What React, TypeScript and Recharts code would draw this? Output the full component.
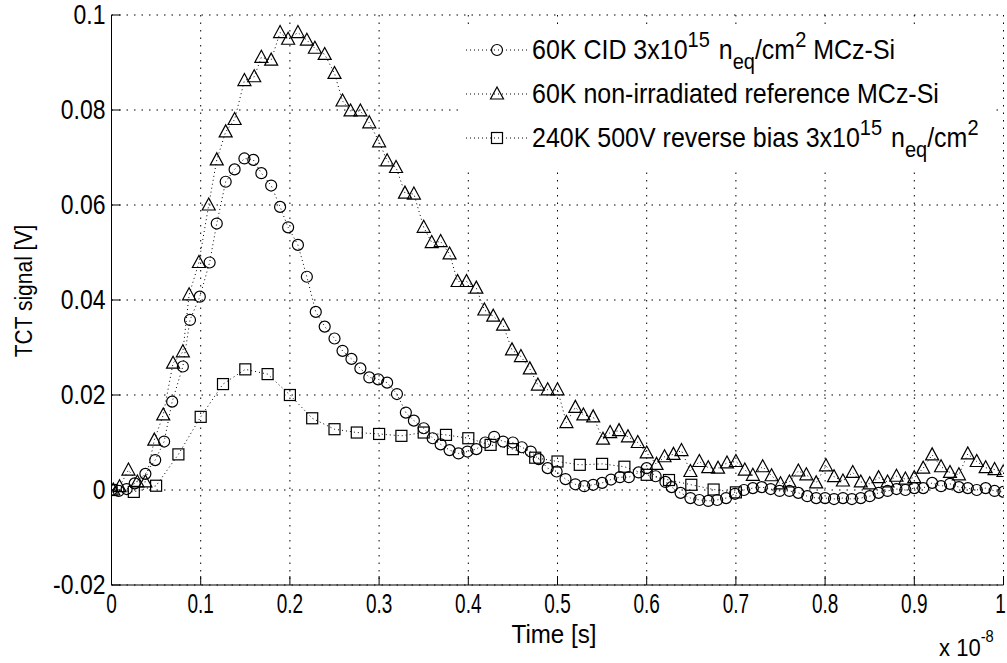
import React from 'react';
import { ScatterChart, Scatter, XAxis, YAxis, CartesianGrid } from 'recharts';

// Time in units of 1e-8 s
const cidTime = [
  0.000, 0.008, 0.017, 0.026, 0.038, 0.049, 0.059, 0.068, 0.080, 0.088,
  0.099, 0.110, 0.118, 0.128, 0.138, 0.149, 0.159, 0.168, 0.179, 0.189,
  0.198, 0.209, 0.219, 0.229, 0.239, 0.250, 0.259, 0.269, 0.279, 0.289,
  0.299, 0.309, 0.320, 0.330, 0.339, 0.350, 0.360, 0.369, 0.379, 0.389,
  0.399, 0.409, 0.419, 0.429, 0.439, 0.450, 0.460, 0.470, 0.479, 0.489,
  0.499, 0.509, 0.520, 0.530, 0.540, 0.550, 0.560, 0.570, 0.580, 0.591,
  0.600, 0.610, 0.621, 0.628, 0.638, 0.649, 0.659, 0.669, 0.679, 0.689,
  0.699, 0.709, 0.719, 0.729, 0.739, 0.749, 0.760, 0.770, 0.780, 0.790,
  0.800, 0.810, 0.820, 0.830, 0.840, 0.850, 0.860, 0.870, 0.880, 0.890,
  0.900, 0.910, 0.920, 0.930, 0.940, 0.950, 0.960, 0.970, 0.980, 0.990, 1.000,
];
const cidSignal = [
  0.0000, -0.0002, 0.0002, 0.0014, 0.0034, 0.0063, 0.0102, 0.0186, 0.0260, 0.0358,
  0.0407, 0.0479, 0.0561, 0.0649, 0.0675, 0.0698, 0.0695, 0.0667, 0.0641, 0.0596,
  0.0553, 0.0516, 0.0449, 0.0375, 0.0344, 0.0319, 0.0293, 0.0276, 0.0256, 0.0237,
  0.0233, 0.0226, 0.0202, 0.0163, 0.0146, 0.0130, 0.0109, 0.0096, 0.0084, 0.0077,
  0.0081, 0.0086, 0.0100, 0.0112, 0.0102, 0.0100, 0.0090, 0.0081, 0.0065, 0.0046,
  0.0039, 0.0023, 0.0012, 0.0008, 0.0011, 0.0015, 0.0022, 0.0027, 0.0027, 0.0037,
  0.0046, 0.0029, 0.0017, 0.0006, -0.0006, -0.0017, -0.0021, -0.0023, -0.0021, -0.0017,
  -0.0008, 0.0000, 0.0004, 0.0006, 0.0002, -0.0002, -0.0002, -0.0006, -0.0013, -0.0017,
  -0.0017, -0.0019, -0.0017, -0.0019, -0.0017, -0.0013, -0.0006, -0.0002, 0.0002, 0.0000,
  0.0004, 0.0004, 0.0015, 0.0008, 0.0013, 0.0006, 0.0004, 0.0000, 0.0004, -0.0002, -0.0004,
];

const refTime = [
  0.002, 0.009, 0.019, 0.029, 0.038, 0.048, 0.058, 0.069, 0.080, 0.087,
  0.098, 0.109, 0.118, 0.128, 0.138, 0.149, 0.160, 0.168, 0.179, 0.189,
  0.198, 0.209, 0.219, 0.228, 0.239, 0.250, 0.259, 0.268, 0.279, 0.289,
  0.300, 0.309, 0.319, 0.329, 0.339, 0.350, 0.359, 0.369, 0.379, 0.388,
  0.398, 0.409, 0.418, 0.428, 0.439, 0.449, 0.459, 0.469, 0.478, 0.489,
  0.500, 0.510, 0.520, 0.529, 0.540, 0.551, 0.559, 0.569, 0.579, 0.590,
  0.600, 0.611, 0.620, 0.630, 0.639, 0.649, 0.659, 0.669, 0.680, 0.690,
  0.700, 0.710, 0.719, 0.730, 0.740, 0.750, 0.760, 0.770, 0.779, 0.790,
  0.801, 0.810, 0.820, 0.831, 0.840, 0.850, 0.860, 0.870, 0.880, 0.890,
  0.900, 0.910, 0.920, 0.930, 0.940, 0.950, 0.960, 0.970, 0.980, 0.990, 1.000,
];
const refSignal = [
  0.0000, 0.0007, 0.0042, 0.0017, 0.0017, 0.0105, 0.0158, 0.0267, 0.0291, 0.0411,
  0.0479, 0.0600, 0.0695, 0.0754, 0.0780, 0.0862, 0.0870, 0.0911, 0.0905, 0.0963,
  0.0949, 0.0963, 0.0947, 0.0930, 0.0917, 0.0877, 0.0819, 0.0798, 0.0798, 0.0773,
  0.0733, 0.0693, 0.0679, 0.0625, 0.0623, 0.0553, 0.0521, 0.0523, 0.0497, 0.0439,
  0.0439, 0.0425, 0.0379, 0.0366, 0.0347, 0.0295, 0.0281, 0.0255, 0.0221, 0.0211,
  0.0211, 0.0142, 0.0174, 0.0158, 0.0154, 0.0107, 0.0121, 0.0125, 0.0112, 0.0100,
  0.0078, 0.0054, 0.0070, 0.0075, 0.0083, 0.0039, 0.0060, 0.0047, 0.0046, 0.0057,
  0.0060, 0.0042, 0.0031, 0.0049, 0.0030, 0.0013, 0.0017, 0.0040, 0.0032, 0.0015,
  0.0051, 0.0028, 0.0019, 0.0037, 0.0017, 0.0013, 0.0026, 0.0017, 0.0029, 0.0023,
  0.0026, 0.0046, 0.0074, 0.0049, 0.0037, 0.0032, 0.0076, 0.0060, 0.0047, 0.0043, 0.0039,
];

const biasTime = [
  0.000, 0.025, 0.050, 0.075, 0.100, 0.125, 0.150, 0.175, 0.200, 0.225,
  0.250, 0.275, 0.300, 0.325, 0.350, 0.375, 0.400, 0.425, 0.450, 0.475,
  0.500, 0.525, 0.550, 0.575, 0.600, 0.625, 0.650, 0.675, 0.700,
];
const biasSignal = [
  0.0000, -0.0004, 0.0009, 0.0075, 0.0154, 0.0223, 0.0254, 0.0244, 0.0200, 0.0151,
  0.0128, 0.0121, 0.0118, 0.0114, 0.0121, 0.0116, 0.0109, 0.0095, 0.0086, 0.0068,
  0.0060, 0.0053, 0.0055, 0.0049, 0.0032, 0.0021, 0.0011, 0.0001, -0.0005,
];

const xTicks = [0, 0.1, 0.2, 0.3, 0.4, 0.5, 0.6, 0.7, 0.8, 0.9, 1];
const xTickLabels = ['0', '0.1', '0.2', '0.3', '0.4', '0.5', '0.6', '0.7', '0.8', '0.9', '1'];
const yTicks = [-0.02, 0, 0.02, 0.04, 0.06, 0.08, 0.1];
const yTickLabels = ['-0.02', '0', '0.02', '0.04', '0.06', '0.08', '0.1'];

const cidData = cidTime.map((t, i) => ({ t, v: cidSignal[i] }));
const refData = refTime.map((t, i) => ({ t, v: refSignal[i] }));
const biasData = biasTime.map((t, i) => ({ t, v: biasSignal[i] }));

const FONT = '"Liberation Sans", Arial, Helvetica, sans-serif';
const INK = '#000';

const CircleMark = (p: any) => (
  <circle cx={p.cx} cy={p.cy} r={5.5} fill="none" stroke={INK} strokeWidth={1.2} />
);
const TriMark = (p: any) => (
  <polygon
    points={`${p.cx},${p.cy - 7} ${p.cx - 6.5},${p.cy + 5} ${p.cx + 6.5},${p.cy + 5}`}
    fill="none"
    stroke={INK}
    strokeWidth={1.2}
  />
);
const SquareMark = (p: any) => (
  <rect x={p.cx - 5.5} y={p.cy - 5.5} width={11} height={11} fill="none" stroke={INK} strokeWidth={1.2} />
);

const xLabel = (v: number) => {
  const i = xTicks.indexOf(v);
  return i >= 0 ? xTickLabels[i] : String(v);
};
const yLabel = (v: number) => {
  const i = yTicks.indexOf(v);
  return i >= 0 ? yTickLabels[i] : String(v);
};

const BottomTick = (p: any) => {
  const isLast = p.payload.value === xTicks[xTicks.length - 1];
  return (
    <g>
      <line x1={p.x} x2={p.x} y1={p.y} y2={p.y - 9} stroke={INK} />
      <text
        transform={`translate(${isLast ? p.x - 3 : p.x},${p.y + 28}) scale(0.95,1.4)`}
        textAnchor="middle"
        fontSize={20}
        fontFamily={FONT}
        fill={INK}
      >
        {xLabel(p.payload.value)}
      </text>
    </g>
  );
};
const TopTick = (p: any) => (
  <line x1={p.x} x2={p.x} y1={p.y} y2={p.y + 9} stroke={INK} />
);
const LeftTick = (p: any) => (
  <g>
    <line x1={p.x} x2={p.x + 9} y1={p.y} y2={p.y} stroke={INK} />
    <text
      transform={`translate(${p.x - 6},${p.y + 9}) scale(1,1.2)`}
      textAnchor="end"
      fontSize={23}
      fontFamily={FONT}
      fill={INK}
    >
      {yLabel(p.payload.value)}
    </text>
  </g>
);
const RightTick = (p: any) => (
  <line x1={p.x} x2={p.x - 9} y1={p.y} y2={p.y} stroke={INK} />
);

const lineStyle = { stroke: INK, strokeWidth: 1, strokeDasharray: '1 3' };

const legendRows = [
  { mark: 'circle', y: 50 },
  { mark: 'triangle', y: 94 },
  { mark: 'square', y: 138 },
];

function LegendMark({ kind, cx, cy }: { kind: string; cx: number; cy: number }) {
  if (kind === 'circle') return <CircleMark cx={cx} cy={cy} />;
  if (kind === 'triangle') return <TriMark cx={cx} cy={cy} />;
  return <SquareMark cx={cx} cy={cy} />;
}

const SUP = 20;

export default function App() {
  return (
    <div style={{ position: 'absolute', left: 0, top: 0, width: 1007, height: 663, background: '#fff' }}>
      <ScatterChart
        width={1007}
        height={663}
        margin={{ top: 15, right: 3.5, left: 11.5, bottom: 38 }}
      >
        <CartesianGrid stroke={INK} strokeDasharray="1.5 6" strokeWidth={1} />
        <XAxis
          dataKey="t"
          type="number"
          domain={[0, 1]}
          ticks={xTicks}
          interval={0}
          allowDataOverflow
          height={40}
          tickSize={0}
          tickMargin={0}
          tickLine={false}
          axisLine={{ stroke: INK, strokeWidth: 1 }}
          tick={<BottomTick />}
        />
        <XAxis
          xAxisId="top"
          orientation="top"
          type="number"
          domain={[0, 1]}
          ticks={xTicks}
          interval={0}
          allowDataOverflow
          height={0}
          tickSize={0}
          tickMargin={0}
          tickLine={false}
          axisLine={{ stroke: INK, strokeWidth: 1 }}
          tick={<TopTick />}
        />
        <YAxis
          dataKey="v"
          type="number"
          domain={[-0.02, 0.1]}
          ticks={yTicks}
          interval={0}
          allowDataOverflow
          width={100}
          tickSize={0}
          tickMargin={0}
          tickLine={false}
          axisLine={{ stroke: INK, strokeWidth: 1 }}
          tick={<LeftTick />}
        />
        <YAxis
          yAxisId="right"
          orientation="right"
          type="number"
          domain={[-0.02, 0.1]}
          ticks={yTicks}
          interval={0}
          allowDataOverflow
          width={0}
          tickSize={0}
          tickMargin={0}
          tickLine={false}
          axisLine={{ stroke: INK, strokeWidth: 1 }}
          tick={<RightTick />}
        />
        <Scatter data={biasData} line={lineStyle} lineType="joint" shape={<SquareMark />} isAnimationActive={false} />
        <Scatter data={refData} line={lineStyle} lineType="joint" shape={<TriMark />} isAnimationActive={false} />
        <Scatter data={cidData} line={lineStyle} lineType="joint" shape={<CircleMark />} isAnimationActive={false} />
      </ScatterChart>

      <svg
        width={1007}
        height={663}
        style={{ position: 'absolute', left: 0, top: 0, pointerEvents: 'none' }}
      >
        {/* legend */}
        <rect x={463} y={24} width={531} height={144} fill="#fff" />
        {legendRows.map((r) => (
          <g key={r.mark}>
            <line x1={466} x2={528} y1={r.y} y2={r.y} {...lineStyle} />
            <LegendMark kind={r.mark} cx={497} cy={r.y} />
          </g>
        ))}
        <g transform="translate(532,59) scale(1,1.1)">
          <text x={0} y={0} fontSize={25} fontFamily={FONT} fill={INK}>
            {'60K CID 3x10'}
            <tspan dy={-11} fontSize={SUP}>15</tspan>
            <tspan dy={11} dx={2}>{' n'}</tspan>
            <tspan dy={9} fontSize={SUP}>eq</tspan>
            <tspan dy={-9}>{'/cm'}</tspan>
            <tspan dy={-11} fontSize={SUP}>2</tspan>
            <tspan dy={11}>{' MCz-Si'}</tspan>
          </text>
        </g>
        <g transform="translate(532,103) scale(1,1.1)">
          <text x={0} y={0} fontSize={25} fontFamily={FONT} fill={INK}>
            60K non-irradiated reference MCz-Si
          </text>
        </g>
        <g transform="translate(532,147) scale(1,1.1)">
          <text x={0} y={0} fontSize={25} fontFamily={FONT} fill={INK}>
            {'240K 500V reverse bias 3x10'}
            <tspan dy={-11} fontSize={SUP}>15</tspan>
            <tspan dy={11} dx={2}>{' n'}</tspan>
            <tspan dy={9} fontSize={SUP}>eq</tspan>
            <tspan dy={-9}>{'/cm'}</tspan>
            <tspan dy={-11} fontSize={SUP}>2</tspan>
          </text>
        </g>

        {/* axis titles */}
        <text
          transform="translate(32,291) rotate(-90) scale(1,1.15)"
          textAnchor="middle"
          fontSize={21}
          fontFamily={FONT}
          fill={INK}
        >
          TCT signal [V]
        </text>
        <text
          transform="translate(554,643) scale(1.15,1.25)"
          textAnchor="middle"
          fontSize={21}
          fontFamily={FONT}
          fill={INK}
        >
          Time [s]
        </text>
        <text transform="translate(939,656) scale(1.05,1.15)" fontSize={21} fontFamily={FONT} fill={INK}>
          {'x 10'}
          <tspan dy={-12} fontSize={14}>-8</tspan>
        </text>
      </svg>
    </div>
  );
}
